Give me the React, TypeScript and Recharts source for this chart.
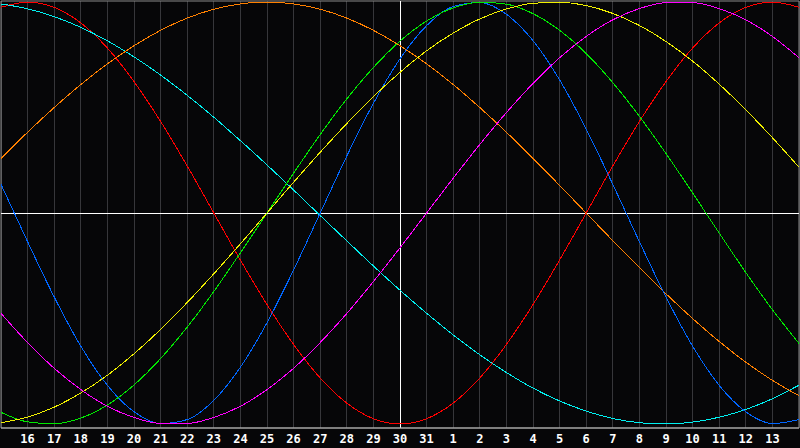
import { CartesianGrid, Line, LineChart, ReferenceArea, ReferenceLine, XAxis, YAxis } from 'recharts';

// day labels for each column, index 0 = left edge, index 30 = right edge
const DAYS = [
  '15', '16', '17', '18', '19', '20', '21', '22', '23', '24', '25', '26', '27', '28', '29', '30', '31',
  '1', '2', '3', '4', '5', '6', '7', '8', '9', '10', '11', '12', '13', '14',
];
const TICKS = [1, 2, 3, 4, 5, 6, 7, 8, 9, 10, 11, 12, 13, 14, 15, 16, 17, 18, 19, 20, 21, 22, 23, 24, 25, 26, 27, 28, 29];

const RED = [0.975, 1, 0.975, 0.901, 0.782, 0.623, 0.434, 0.223, 0, -0.223, -0.434, -0.623, -0.782, -0.901, -0.975, -1, -0.975, -0.901, -0.782, -0.623, -0.434, -0.223, 0, 0.223, 0.434, 0.623, 0.782, 0.901, 0.975, 1, 0.975];
const CYAN = [0.991, 0.968, 0.931, 0.88, 0.816, 0.74, 0.654, 0.558, 0.454, 0.343, 0.228, 0.109, -0.012, -0.132, -0.251, -0.366, -0.475, -0.578, -0.672, -0.756, -0.83, -0.891, -0.939, -0.974, -0.994, -1, -0.991, -0.968, -0.931, -0.88, -0.816];
const ORANGE = [0.259, 0.383, 0.5, 0.609, 0.707, 0.793, 0.866, 0.924, 0.966, 0.991, 1, 0.991, 0.966, 0.924, 0.866, 0.793, 0.707, 0.609, 0.5, 0.383, 0.259, 0.131, 0, -0.131, -0.259, -0.383, -0.5, -0.609, -0.707, -0.793, -0.866];
const BLUE = [0.136, -0.136, -0.398, -0.631, -0.817, -0.942, -0.998, -0.979, -0.888, -0.731, -0.52, -0.27, 0, 0.27, 0.52, 0.731, 0.888, 0.979, 0.998, 0.942, 0.817, 0.631, 0.398, 0.136, -0.136, -0.398, -0.631, -0.817, -0.942, -0.998, -0.979];
const GREEN = [-0.945, -0.99, -0.999, -0.972, -0.91, -0.815, -0.69, -0.541, -0.372, -0.189, 0, 0.189, 0.372, 0.541, 0.69, 0.815, 0.91, 0.972, 0.999, 0.99, 0.945, 0.866, 0.756, 0.618, 0.458, 0.282, 0.095, -0.095, -0.282, -0.458, -0.618];
const YELLOW = [-0.994, -0.967, -0.92, -0.853, -0.769, -0.667, -0.552, -0.424, -0.288, -0.146, 0, 0.146, 0.288, 0.424, 0.552, 0.667, 0.769, 0.853, 0.92, 0.967, 0.994, 0.999, 0.983, 0.946, 0.889, 0.813, 0.72, 0.611, 0.489, 0.357, 0.217];
const MAGENTA = [-0.476, -0.614, -0.736, -0.837, -0.916, -0.969, -0.997, -0.997, -0.969, -0.916, -0.837, -0.736, -0.614, -0.476, -0.325, -0.165, 0, 0.165, 0.325, 0.476, 0.614, 0.736, 0.837, 0.916, 0.969, 0.997, 0.997, 0.969, 0.916, 0.837, 0.736];

const SERIES = [
  { key: 'red', color: '#ff0000' },
  { key: 'cyan', color: '#00f0f0' },
  { key: 'orange', color: '#ff8000' },
  { key: 'blue', color: '#0066ff' },
  { key: 'green', color: '#00e800' },
  { key: 'yellow', color: '#f0f000' },
  { key: 'magenta', color: '#ff00ff' },
];

const Y_MIN = -1.019;
const Y_MAX = 1.005;

const data = DAYS.map((day, i) => ({
  i,
  day,
  red: RED[i],
  cyan: CYAN[i],
  orange: ORANGE[i],
  blue: BLUE[i],
  green: GREEN[i],
  yellow: YELLOW[i],
  magenta: MAGENTA[i],
}));

const css = `
body { margin: 0; background: #060608; }
.recharts-line-curve, .recharts-cartesian-grid line, .recharts-reference-line line { shape-rendering: crispEdges; }
`;

export default function App() {
  return (
    <div style={{ position: 'absolute', left: 0, top: 0, width: 800, height: 448, background: '#060608' }}>
      <style>{css}</style>
      <LineChart width={800} height={448} data={data} margin={{ top: 1, right: 1, bottom: 0, left: 1 }}>
        <CartesianGrid horizontal={false} stroke="#36363a" />
        <XAxis
          dataKey="i"
          type="number"
          domain={[0, 30]}
          ticks={TICKS}
          interval={0}
          height={20}
          tickLine={false}
          tickMargin={0}
          axisLine={{ stroke: '#b4b4b4' }}
          tickFormatter={(v) => DAYS[v]}
          tick={{ fill: '#ffffff', fontSize: 12, fontWeight: 'bold', fontFamily: 'DejaVu Sans Mono' }}
        />
        <YAxis hide domain={[Y_MIN, Y_MAX]} />
        <ReferenceArea x1={0} x2={30} y1={Y_MIN} y2={Y_MAX} fill="none" stroke="#8a8a8a" ifOverflow="visible" />
        <ReferenceLine x={15} stroke="#ffffff" />
        <ReferenceLine y={0} stroke="#ffffff" />
        {SERIES.map((s) => (
          <Line key={s.key} type="monotone" dataKey={s.key} stroke={s.color} strokeWidth={1} dot={false} isAnimationActive={false} />
        ))}
      </LineChart>
    </div>
  );
}
